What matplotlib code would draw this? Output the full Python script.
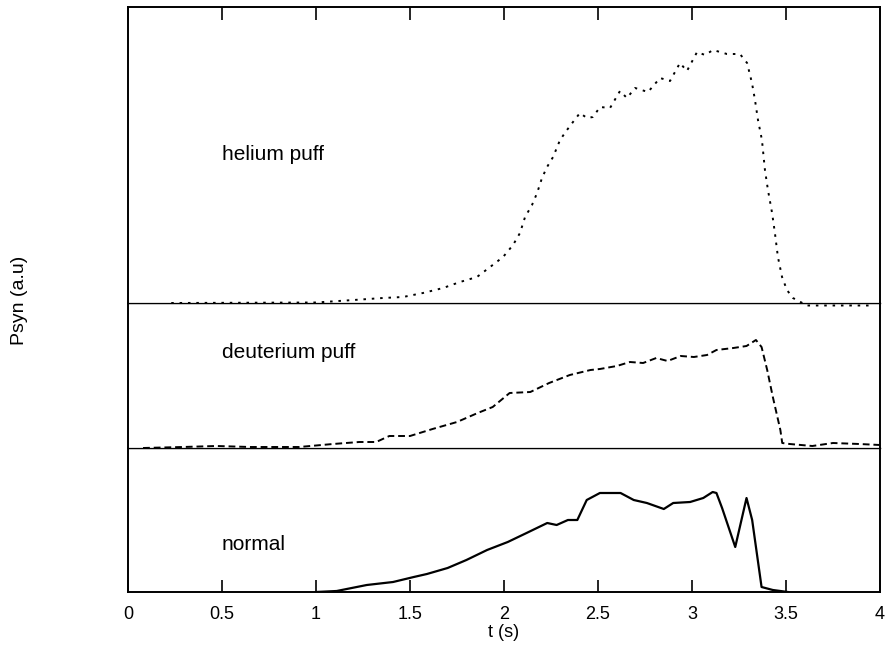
import matplotlib
matplotlib.use("Agg")
import matplotlib.pyplot as plt

plt.rcParams['font.family'] = ['Liberation Sans', 'DejaVu Sans']

# synchrotron power traces (arbitrary units)
helium_t = [0.23, 1.0, 1.2, 1.356, 1.463, 1.569, 1.676, 1.766, 1.856, 1.926,
            1.995, 2.048, 2.085, 2.112, 2.149, 2.176, 2.202, 2.229, 2.261, 2.298,
            2.335, 2.367, 2.404, 2.441, 2.473, 2.511, 2.564, 2.617, 2.654, 2.697,
            2.766, 2.830, 2.883, 2.936, 2.973, 3.027, 3.069, 3.112, 3.186, 3.255,
            3.293, 3.319, 3.335, 3.351, 3.372, 3.388, 3.404, 3.426, 3.441, 3.457,
            3.479, 3.505, 3.537, 3.612, 3.963]
helium_p = [0.0, 0.005, 0.03, 0.05, 0.06, 0.10, 0.15, 0.21, 0.26, 0.36,
            0.46, 0.58, 0.70, 0.86, 0.98, 1.10, 1.25, 1.36, 1.46, 1.63,
            1.73, 1.81, 1.90, 1.85, 1.86, 1.96, 1.95, 2.12, 2.05, 2.15,
            2.11, 2.25, 2.22, 2.40, 2.32, 2.51, 2.48, 2.53, 2.49, 2.49,
            2.40, 2.20, 2.03, 1.83, 1.63, 1.33, 1.13, 0.90, 0.70, 0.46,
            0.26, 0.13, 0.05, -0.025, -0.025]

deut_t = [0.08, 0.29, 0.47, 0.65, 0.91, 1.09, 1.23, 1.32, 1.39, 1.50,
          1.62, 1.75, 1.86, 1.94, 2.03, 2.14, 2.24, 2.35, 2.46, 2.51,
          2.60, 2.67, 2.74, 2.81, 2.87, 2.94, 3.01, 3.08, 3.13, 3.22,
          3.29, 3.34, 3.37, 3.40, 3.43, 3.47, 3.48, 3.52, 3.64, 3.75,
          3.89, 4.0]
deut_p = [0.0, 0.01, 0.02, 0.01, 0.01, 0.04, 0.06, 0.06, 0.12, 0.12,
          0.19, 0.26, 0.35, 0.41, 0.55, 0.56, 0.65, 0.73, 0.78, 0.79,
          0.82, 0.86, 0.85, 0.90, 0.87, 0.92, 0.91, 0.93, 0.98, 1.00,
          1.02, 1.08, 1.01, 0.78, 0.51, 0.18, 0.05, 0.04, 0.02, 0.05,
          0.04, 0.03]

normal_t = [1.0, 1.11, 1.27, 1.41, 1.52, 1.59, 1.70, 1.80, 1.91, 2.02,
            2.12, 2.23, 2.28, 2.34, 2.39, 2.44, 2.51, 2.62, 2.69, 2.76,
            2.85, 2.90, 2.99, 3.06, 3.11, 3.13, 3.16, 3.23, 3.29, 3.32,
            3.37, 3.43, 3.51]
normal_p = [0.0, 0.01, 0.07, 0.10, 0.15, 0.18, 0.24, 0.32, 0.42, 0.50,
            0.59, 0.69, 0.67, 0.72, 0.72, 0.92, 0.99, 0.99, 0.92, 0.89,
            0.83, 0.89, 0.90, 0.94, 1.00, 0.99, 0.84, 0.45, 0.94, 0.72,
            0.05, 0.02, 0.0]

tick_pos = [0, 0.5, 1, 1.5, 2, 2.5, 3, 3.5, 4]
tick_lbl = ["0", "0.5", "1", "1.5", "2", "2.5", "3", "3.5", "4"]

fig = plt.figure(figsize=(8.87, 6.46), dpi=100)
gs = fig.add_gridspec(3, 1, height_ratios=[2.96, 1.45, 1.44], hspace=0,
                      left=128 / 887, right=880 / 887,
                      top=1 - 7 / 646, bottom=1 - 592 / 646)
ax_he = fig.add_subplot(gs[0])
ax_d = fig.add_subplot(gs[1], sharex=ax_he)
ax_n = fig.add_subplot(gs[2], sharex=ax_he)

# upper panels drawn last so their tails below zero stay visible
ax_he.set_zorder(3)
ax_d.set_zorder(2)

ax_he.plot(helium_t, helium_p, color="black", lw=1.4,
           linestyle=(0, (1.3, 3.0)), clip_on=False)
ax_d.plot(deut_t, deut_p, color="black", lw=1.4,
          linestyle=(0, (3.5, 2.0)), clip_on=False)
ax_n.plot(normal_t, normal_p, color="black", lw=1.6)

ax_he.set_ylim(0, 2.96)
ax_d.set_ylim(0, 1.45)
ax_n.set_ylim(0, 1.44)
ax_n.set_xlim(0, 4)

labels = [(ax_he, 1.48, "helium puff"), (ax_d, 0.96, "deuterium puff"),
          (ax_n, 0.47, "normal")]
for ax, y, txt in labels:
    ax.text(0.5, y, txt, fontsize=15, ha="left", va="center")

for ax in (ax_he, ax_d, ax_n):
    ax.set_yticks([])
    for side in ("left", "right", "top", "bottom"):
        ax.spines[side].set_linewidth(1.4)

# thinner dividers between the stacked panels
ax_he.spines["bottom"].set_linewidth(0.9)
ax_d.spines["top"].set_linewidth(0.9)
ax_d.spines["bottom"].set_linewidth(0.9)
ax_n.spines["top"].set_linewidth(0.9)

ax_he.xaxis.set_ticks_position("top")
ax_he.tick_params(axis="x", direction="in", length=9, width=1.2,
                  labeltop=False, labelbottom=False)
ax_d.tick_params(axis="x", length=0, labelbottom=False)
ax_n.set_xticks(tick_pos)
ax_n.set_xticklabels(tick_lbl)
ax_n.tick_params(axis="x", direction="in", length=9, width=1.2,
                 labelsize=13, pad=10)
ax_n.set_xlabel("t (s)", fontsize=13, labelpad=1)

fig.text(20 / 887, 1 - 300 / 646, "Psyn (a.u)", rotation=90,
         fontsize=14, ha="center", va="center")

fig.savefig("out.png", dpi=100)
